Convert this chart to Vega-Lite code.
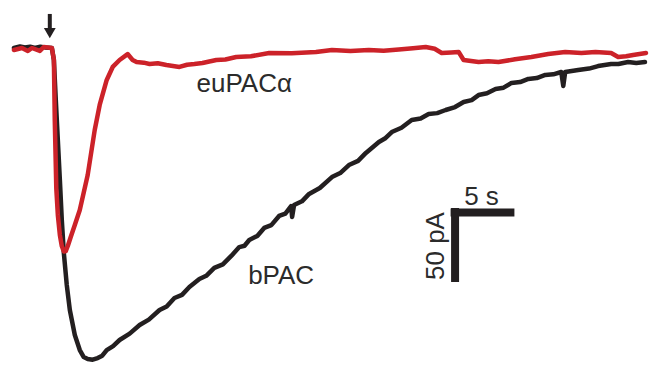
{
  "$schema": "https://vega.github.io/schema/vega-lite/v6.json",
  "width": 649,
  "height": 365,
  "autosize": {"type": "fit", "contains": "padding"},
  "padding": 0,
  "background": "white",
  "config": {"view": {"stroke": null}},
  "datasets": {
    "bPAC": [
      {"t": -2.97, "I": 0}, {"t": -2.5, "I": 1.0}, {"t": -2.11, "I": 0.3}, {"t": -1.7, "I": 0.9}, {"t": -1.33, "I": 0}, {"t": -0.9, "I": 0.9}, {"t": -0.55, "I": 0.4},
      {"t": 0, "I": 0}, {"t": 0.16, "I": -8.1}, {"t": 0.31, "I": -35.1}, {"t": 0.47, "I": -62.2},
      {"t": 0.63, "I": -89.2}, {"t": 0.78, "I": -116.2}, {"t": 0.94, "I": -138.5}, {"t": 1.17, "I": -160.1},
      {"t": 1.41, "I": -177.0}, {"t": 1.8, "I": -193.9}, {"t": 2.19, "I": -204.1}, {"t": 2.5, "I": -208.8},
      {"t": 2.81, "I": -210.1}, {"t": 3.2, "I": -210.6}, {"t": 3.59, "I": -209.5}, {"t": 3.95, "I": -207.9}, {"t": 4.3, "I": -204.1},
      {"t": 4.8, "I": -201.4}, {"t": 5.31, "I": -197.3}, {"t": 6.1, "I": -193.0}, {"t": 6.88, "I": -187.2}, {"t": 7.6, "I": -183.5},
      {"t": 8.44, "I": -177.0}, {"t": 9.0, "I": -174.6}, {"t": 9.61, "I": -168.9}, {"t": 10.2, "I": -166.8},
      {"t": 10.78, "I": -161.5}, {"t": 11.56, "I": -156.1}, {"t": 12.1, "I": -153.9}, {"t": 12.73, "I": -148.6}, {"t": 13.4, "I": -146.2}, {"t": 14.06, "I": -140.5},
      {"t": 14.69, "I": -134.5}, {"t": 15.1, "I": -133.6}, {"t": 15.47, "I": -129.7}, {"t": 16.1, "I": -127.0}, {"t": 16.64, "I": -121.6}, {"t": 17.2, "I": -119.7}, {"t": 17.81, "I": -113.5},
      {"t": 18.3, "I": -111.9}, {"t": 18.75, "I": -106.8}, {"t": 18.83, "I": -114.2}, {"t": 18.98, "I": -106.1}, {"t": 19.6, "I": -103.6}, {"t": 20.16, "I": -98.6},
      {"t": 21.0, "I": -94.6}, {"t": 21.95, "I": -87.2}, {"t": 22.6, "I": -84.5}, {"t": 23.28, "I": -79.1}, {"t": 24.0, "I": -76.3}, {"t": 24.61, "I": -70.9}, {"t": 25.63, "I": -63.5},
      {"t": 26.1, "I": -61.2}, {"t": 26.64, "I": -56.8}, {"t": 27.4, "I": -53.9}, {"t": 28.2, "I": -48.6}, {"t": 28.9, "I": -47.6}, {"t": 29.53, "I": -44.6}, {"t": 30.2, "I": -44.0}, {"t": 30.86, "I": -41.9},
      {"t": 31.6, "I": -39.9}, {"t": 32.27, "I": -36.5}, {"t": 32.9, "I": -35.2}, {"t": 33.44, "I": -31.8}, {"t": 34.1, "I": -30.6}, {"t": 34.77, "I": -27.7}, {"t": 35.4, "I": -26.8}, {"t": 36.02, "I": -23.6},
      {"t": 36.7, "I": -23.0}, {"t": 37.34, "I": -20.9}, {"t": 38.0, "I": -20.3}, {"t": 38.67, "I": -18.2}, {"t": 39.3, "I": -17.8}, {"t": 39.92, "I": -16.2}, {"t": 40.08, "I": -25.7},
      {"t": 40.23, "I": -16.2}, {"t": 41.25, "I": -14.9}, {"t": 42.1, "I": -13.9}, {"t": 42.81, "I": -12.2}, {"t": 43.83, "I": -10.8},
      {"t": 44.4, "I": -10.8}, {"t": 45.16, "I": -9.5}, {"t": 45.8, "I": -10.1}, {"t": 46.48, "I": -9.5}
    ],
    "euPAC": [
      {"t": -2.97, "I": -1.35}, {"t": -2.34, "I": 0}, {"t": -1.88, "I": -2.0}, {"t": -1.56, "I": 0},
      {"t": -0.94, "I": -2.0}, {"t": -0.63, "I": 0.68}, {"t": 0, "I": 0}, {"t": 0.16, "I": -8.1},
      {"t": 0.23, "I": -48.6}, {"t": 0.35, "I": -95.0}, {"t": 0.47, "I": -112.8}, {"t": 0.63, "I": -126.4}, {"t": 0.78, "I": -133.8},
      {"t": 0.94, "I": -137.5}, {"t": 1.09, "I": -137.2}, {"t": 1.25, "I": -133.8}, {"t": 1.48, "I": -127.7}, {"t": 1.8, "I": -119.6}, {"t": 2.19, "I": -109.5},
      {"t": 2.81, "I": -85.8}, {"t": 3.36, "I": -55.4}, {"t": 3.75, "I": -38.5}, {"t": 4.3, "I": -21.6},
      {"t": 4.77, "I": -12.8}, {"t": 5.31, "I": -8.1}, {"t": 5.94, "I": -4.1}, {"t": 6.33, "I": -8.1},
      {"t": 6.64, "I": -9.5}, {"t": 7.2, "I": -9.9}, {"t": 7.66, "I": -10.8}, {"t": 8.3, "I": -10.3}, {"t": 8.98, "I": -11.5}, {"t": 10.0, "I": -12.8},
      {"t": 10.6, "I": -11.3}, {"t": 11.17, "I": -10.8}, {"t": 11.8, "I": -10.1}, {"t": 12.89, "I": -8.1}, {"t": 13.6, "I": -7.8}, {"t": 14.45, "I": -6.1},
      {"t": 15.6, "I": -5.6}, {"t": 17.03, "I": -3.4}, {"t": 18.8, "I": -3.6}, {"t": 20.7, "I": -2.7}, {"t": 21.95, "I": -1.35}, {"t": 23.4, "I": -2.0}, {"t": 24.84, "I": -1.35},
      {"t": 26.0, "I": -1.8}, {"t": 27.19, "I": -1.0}, {"t": 28.3, "I": -0.2},
      {"t": 29.3, "I": 0.68}, {"t": 30.0, "I": -0.5}, {"t": 30.55, "I": -3.4}, {"t": 31.3, "I": -3.0}, {"t": 31.88, "I": -2.7}, {"t": 32.27, "I": -8.1},
      {"t": 33.44, "I": -9.5}, {"t": 34.2, "I": -9.0}, {"t": 35.0, "I": -9.5}, {"t": 36.3, "I": -7.6}, {"t": 37.58, "I": -6.1}, {"t": 38.9, "I": -4.1}, {"t": 40.23, "I": -2.7},
      {"t": 41.5, "I": -3.4}, {"t": 42.6, "I": -2.7}, {"t": 43.83, "I": -3.4}, {"t": 44.38, "I": -6.1}, {"t": 45.0, "I": -5.6}, {"t": 45.55, "I": -4.7}, {"t": 46.56, "I": -3.4}
    ],
    "bars": [
      {"t": 31.25, "t2": 36.25, "I": -111.1, "I2": -111.1, "w": 8},
      {"t": 31.6, "t2": 31.6, "I": -108.1, "I2": -158.1, "w": 8},
      {"t": -0.16, "t2": -0.16, "I": 23.0, "I2": 12.5, "w": 4}
    ],
    "head": [{"t": -0.16, "I": 10.1}],
    "labels": [
      {"t": 15.08, "I": -29.7, "text": "euPACα", "angle": 0},
      {"t": 17.97, "I": -159.5, "text": "bPAC", "angle": 0},
      {"t": 33.67, "I": -106.1, "text": "5 s", "angle": 0},
      {"t": 30.7, "I": -133.8, "text": "50 pA", "angle": 270}
    ]
  },
  "encoding": {
    "x": {"field": "t", "type": "quantitative", "scale": {"domain": [-4.0625, 46.640625], "nice": false, "zero": false}, "axis": null},
    "y": {"field": "I", "type": "quantitative", "scale": {"domain": [-214.19, 32.43], "nice": false, "zero": false}, "axis": null}
  },
  "layer": [
    {"data": {"name": "bPAC"}, "mark": {"type": "line", "color": "#231f20", "strokeWidth": 4.5, "strokeJoin": "round", "strokeCap": "round"}},
    {"data": {"name": "euPAC"}, "mark": {"type": "line", "color": "#cc2229", "strokeWidth": 4.5, "strokeJoin": "round", "strokeCap": "round"}},
    {"data": {"name": "bars"}, "mark": {"type": "rule", "color": "#231f20", "strokeCap": "butt"},
     "encoding": {"x2": {"field": "t2"}, "y2": {"field": "I2"}, "strokeWidth": {"field": "w", "type": "quantitative", "scale": null}}},
    {"data": {"name": "head"}, "mark": {"type": "point", "shape": "triangle-down", "filled": true, "color": "#231f20", "size": 140, "opacity": 1}},
    {"data": {"name": "labels"}, "mark": {"type": "text", "font": "Liberation Sans", "fontSize": 26, "color": "#2b2b2b", "align": "center", "baseline": "alphabetic"},
     "encoding": {"text": {"field": "text"}, "angle": {"field": "angle", "type": "quantitative", "scale": null}}}
  ]
}
